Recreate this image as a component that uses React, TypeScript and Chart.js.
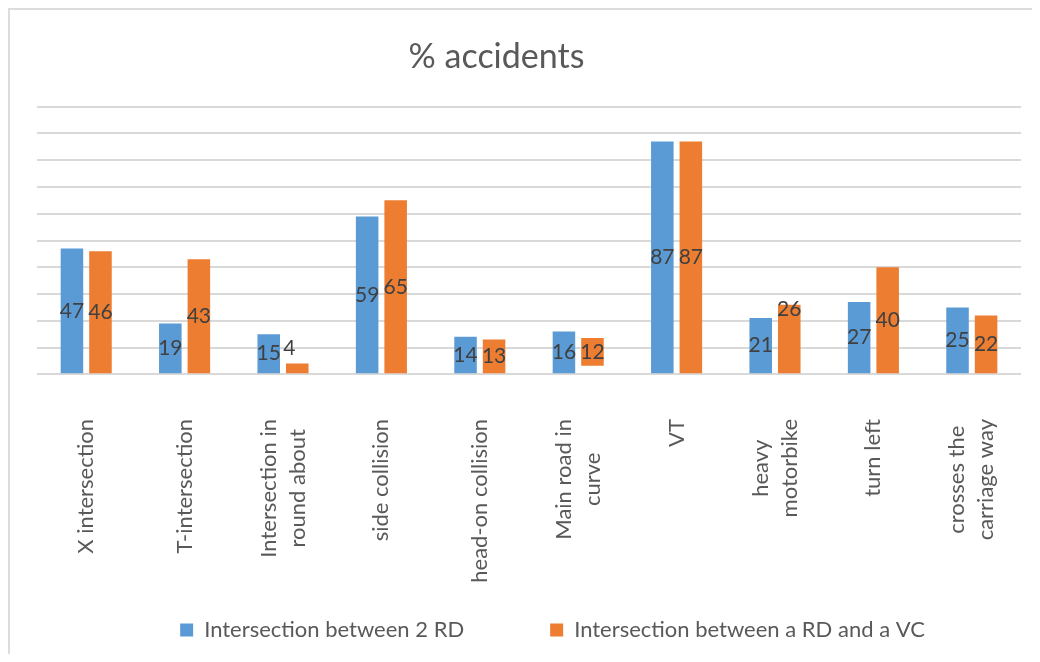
import React, { useEffect, useRef } from 'react';
import { Chart, registerables } from 'chart.js';

Chart.register(...registerables);

const chartTitle = '% accidents';
const categories: (string | string[])[] = [
  'X intersection',
  'T-intersection',
  ['Intersection in', 'round about'],
  'side collision',
  'head-on collision',
  ['Main road in', 'curve'],
  'VT',
  ['heavy', 'motorbike'],
  'turn left',
  ['crosses the', 'carriage way'],
];
const seriesNames = ['Intersection between 2 RD', 'Intersection between a RD and a VC'];
const rdValues = [47, 19, 15, 59, 14, 16, 87, 21, 27, 25];
const vcValues = [46, 43, 4, 65, 13, 12, 87, 26, 40, 22];
// In the source picture the orange "Main road in curve" bar floats above the axis.
const vcBarBottoms = [0, 0, 0, 0, 0, 3.2, 0, 0, 0, 0];
const vcBarTops = [46, 43, 4, 65, 13, 13.6, 87, 26, 40, 22];
const yMin = 0;
const yMax = 100;
const yStep = 10;

const FONT = 'Lato, "Open Sans", sans-serif';
const TEXT = '#595959';

const valueLabels = {
  id: 'valueLabels',
  afterDatasetsDraw(chart: any, _args: any, opts: any) {
    const ctx = chart.ctx;
    ctx.save();
    ctx.font = `${opts.size}px ${opts.family}`;
    ctx.fillStyle = opts.color;
    ctx.textAlign = 'center';
    ctx.textBaseline = 'middle';
    chart.data.datasets.forEach((_ds: any, di: number) => {
      const meta = chart.getDatasetMeta(di);
      const texts = opts.texts[di];
      meta.data.forEach((bar: any, i: number) => {
        const off = (opts.offsets || []).find((o: any) => o.dataset === di && o.index === i) || { dx: 0, dy: 0 };
        ctx.fillText(String(texts[i]), bar.x + off.dx, (bar.y + bar.base) / 2 + off.dy);
      });
    });
    ctx.restore();
  },
};

// Rotated category labels: lines of a wrapped label centred on the tick.
const categoryLabels = {
  id: 'categoryLabels',
  afterDraw(chart: any, _args: any, opts: any) {
    const scale = chart.scales.x;
    const ctx = chart.ctx;
    ctx.save();
    ctx.font = `${opts.size}px ${opts.family}`;
    ctx.fillStyle = opts.color;
    ctx.textAlign = 'right';
    ctx.textBaseline = 'middle';
    (chart.data.labels as any[]).forEach((lab, i) => {
      const lines: string[] = Array.isArray(lab) ? lab : [lab];
      const cx = scale.getPixelForTick(i);
      const widths = lines.map((l) => ctx.measureText(l).width);
      const maxW = Math.max(...widths);
      lines.forEach((line, j) => {
        const x = cx + (j - (lines.length - 1) / 2) * opts.lineHeight;
        const y = scale.top + opts.gap + (maxW - widths[j]) / 2;
        ctx.save();
        ctx.translate(x, y);
        ctx.rotate(-Math.PI / 2);
        ctx.fillText(line, 0, 0);
        ctx.restore();
      });
    });
    ctx.restore();
  },
};

const blockNudge = {
  id: 'blockNudge',
  afterLayout(chart: any, _args: any, opts: any) {
    const t = chart.titleBlock;
    if (t) {
      t.left += opts.titleDx;
      t.right += opts.titleDx;
    }
    const l = chart.legend;
    if (l) {
      l.left += opts.legendDx;
      l.right += opts.legendDx;
    }
  },
};

export default function App() {
  const ref = useRef<HTMLCanvasElement | null>(null);

  useEffect(() => {
    if (!ref.current) return;
    const vcBarData = vcBarTops.map((t, i) => (vcBarBottoms[i] ? [vcBarBottoms[i], t] : t));
    const chart = new Chart(ref.current, {
      type: 'bar',
      data: {
        labels: categories,
        datasets: [
          {
            label: seriesNames[0],
            data: rdValues,
            backgroundColor: '#5B9BD5',
            borderWidth: 0,
            barPercentage: 0.79,
            categoryPercentage: 0.58,
          },
          {
            label: seriesNames[1],
            data: vcBarData as any,
            backgroundColor: '#ED7D31',
            borderWidth: 0,
            barPercentage: 0.79,
            categoryPercentage: 0.58,
          },
        ],
      },
      options: {
        responsive: false,
        animation: false,
        layout: { padding: { left: 27, right: 11, top: 0, bottom: 3 } },
        scales: {
          x: {
            grid: { display: false, drawTicks: false },
            border: { display: false },
            ticks: { display: false },
            afterFit: (axis: any) => {
              axis.height = 158.7;
              axis.paddingLeft = 0;
              axis.paddingRight = 0;
            },
          },
          y: {
            min: yMin,
            max: yMax,
            ticks: { display: false, stepSize: yStep },
            grid: { color: '#d9d9d9', lineWidth: 2, drawTicks: false },
            border: { display: false },
          },
        },
        plugins: {
          title: {
            display: true,
            text: chartTitle,
            color: TEXT,
            font: { family: FONT, size: 34, weight: 'normal', lineHeight: 1.2 },
            padding: { top: 26.6, bottom: 29.3 },
          },
          legend: {
            position: 'bottom',
            labels: {
              boxWidth: 13,
              boxHeight: 13,
              padding: 86,
              color: TEXT,
              font: { family: FONT, size: 22 },
            },
          },
          tooltip: { enabled: false },
          valueLabels: {
            texts: [rdValues, vcValues],
            size: 21,
            family: FONT,
            color: '#404040',
            offsets: [
              { dataset: 1, index: 2, dx: -8, dy: -20 },
              { dataset: 1, index: 7, dx: 0, dy: -30 },
            ],
          },
          categoryLabels: {
            size: 22,
            family: FONT,
            color: TEXT,
            lineHeight: 29,
            gap: 44.7,
          },
          blockNudge: { titleDx: -32.5, legendDx: 23.5 },
        } as any,
      },
      plugins: [valueLabels, categoryLabels, blockNudge],
    });
    return () => chart.destroy();
  }, []);

  return (
    <div
      style={{
        width: 1022,
        height: 644,
        borderLeft: '2px solid #dcdcdc',
        borderTop: '2px solid #dcdcdc',
      }}
    >
      <canvas ref={ref} width={1022} height={644} style={{ display: 'block' }} />
    </div>
  );
}
